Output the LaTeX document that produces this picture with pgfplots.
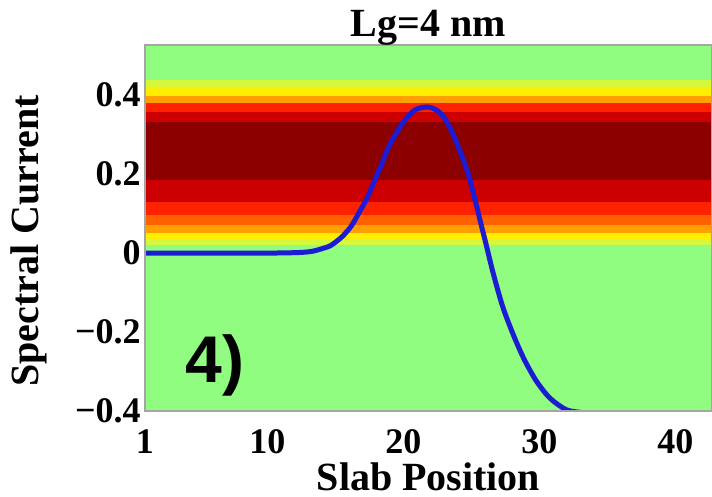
\documentclass[border=0pt]{standalone}
\usepackage{pgfplots}
\pgfplotsset{compat=1.18}
\usepackage{fontspec}
\setmainfont{Liberation Serif}
\newfontfamily\panelfont{Liberation Sans}

% colour scale of the spectral-density map
\definecolor{mapgreen}{RGB}{144,252,128}
\definecolor{mapyg}{RGB}{214,248,60}
\definecolor{mapyellow}{RGB}{255,238,0}
\definecolor{maporange}{RGB}{255,160,0}
\definecolor{mapdkorange}{RGB}{255,96,0}
\definecolor{mapred}{RGB}{255,34,0}
\definecolor{mapcrimson}{RGB}{204,0,0}
\definecolor{mapmaroon}{RGB}{140,0,0}
\definecolor{curveblue}{RGB}{28,28,212}

\newcommand{\band}[3]{%
  \addplot[draw=none, fill=#1] coordinates {(1,#2) (42.7,#2) (42.7,#3) (1,#3)} --cycle;}

\begin{document}
\begin{tikzpicture}
\begin{axis}[
  scale only axis,
  width=283.5bp, height=183bp,
  xmin=1, xmax=42.7, ymin=-0.4, ymax=0.527,
  xtick={1,10,20,30,40}, xticklabels={1,10,20,30,40},
  ytick={-0.4,-0.2,0,0.2,0.4}, yticklabels={−0.4,−0.2,0,0.2,0.4},
  major tick length=0pt,
  axis background/.style={fill=mapgreen},
  axis line style={draw=gray!70, line width=0.75bp},
  tick label style={font=\fontsize{18bp}{20bp}\selectfont\bfseries},
  xticklabel style={anchor=base, yshift=-21bp, inner sep=0pt},
  yticklabel style={anchor=east, inner sep=0pt, xshift=-2bp},
  label style={font=\fontsize{20bp}{22bp}\selectfont\bfseries},
  xlabel={Slab Position},
  xlabel style={at={(axis description cs:0.5,0)}, anchor=base, yshift=-39.5bp, inner sep=0pt},
  ylabel={Spectral Current},
  ylabel style={at={(axis description cs:-0.2046,0.4645)}, anchor=center, inner sep=0pt},
  title={Lg=4 nm},
  every axis title shift=0pt,
  title style={at={(axis description cs:0.5,1)}, anchor=base, yshift=4bp, inner sep=0pt,
               font=\fontsize{20bp}{22bp}\selectfont\bfseries},
  clip=true,
  axis on top,
]
% horizontal bands of the map
\band{mapyg}{0.438}{0.418}
\band{mapyellow}{0.418}{0.397}
\band{maporange}{0.397}{0.380}
\band{mapred}{0.380}{0.357}
\band{mapcrimson}{0.357}{0.332}
\band{mapmaroon}{0.332}{0.185}
\band{mapcrimson}{0.185}{0.129}
\band{mapred}{0.129}{0.096}
\band{mapdkorange}{0.096}{0.071}
\band{maporange}{0.071}{0.051}
\band{mapyellow}{0.051}{0.033}
\band{mapyg}{0.033}{0.020}

% spectral current along the slab
\addplot[curveblue, line width=2.5bp, smooth, tension=0.5] coordinates {
  (1,0) (5,0) (10,0) (12,0.001) (13,0.003) (13.5,0.006) (14,0.011)
  (14.6,0.018) (15.1,0.030) (15.6,0.045) (16.2,0.070) (16.7,0.100)
  (17.3,0.137) (17.8,0.177) (18.4,0.225) (18.9,0.268) (19.5,0.305)
  (20.0,0.332) (20.5,0.352) (21.0,0.365) (21.8,0.370) (22.4,0.363)
  (22.9,0.348) (23.3,0.326) (23.7,0.298) (24.2,0.255) (24.75,0.203)
  (25.2,0.145) (25.7,0.075) (26.1,0.020) (26.6,-0.050) (27.3,-0.135)
  (28.1,-0.208) (28.9,-0.270) (29.8,-0.325) (30.8,-0.368) (32.0,-0.397)
  (33.2,-0.405) (34.0,-0.420)
};

\node[anchor=base, inner sep=0pt, font=\panelfont\fontsize{33bp}{36bp}\selectfont\bfseries]
  at (axis cs:6.15,-0.327) {4)};
\end{axis}
\pgfresetboundingbox
\useasboundingbox (-72.5bp,-43bp) rectangle (283.5bp,205.5bp);
\end{tikzpicture}
\end{document}
